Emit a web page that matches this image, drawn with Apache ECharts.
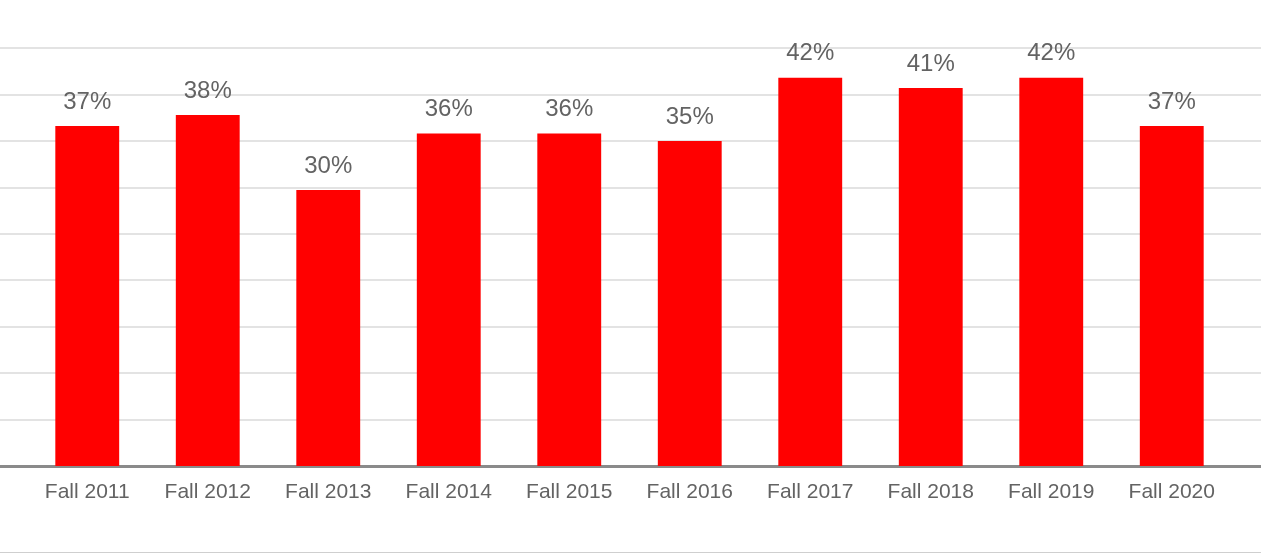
<!DOCTYPE html>
<html>
<head>
<meta charset="utf-8">
<script src="https://cdn.jsdelivr.net/npm/echarts@6/dist/echarts.min.js"></script>
<style>
  html, body { margin: 0; padding: 0; background: #fff; }
  #chart { width: 1261px; height: 552px; border-bottom: 1px solid #cfcfcf; }
</style>
</head>
<body>
<div id="chart"></div>
<script>
const categories = ['Fall 2011','Fall 2012','Fall 2013','Fall 2014','Fall 2015','Fall 2016','Fall 2017','Fall 2018','Fall 2019','Fall 2020'];
const values = [36.6, 37.8, 29.7, 35.8, 35.8, 35.0, 41.8, 40.7, 41.8, 36.6];
const yMin = 0, yMax = 45, yStep = 5;

const font = 'Liberation Sans, Arial, sans-serif';
const chart = echarts.init(document.getElementById('chart'), null, { renderer: 'canvas' });
chart.setOption({
  animation: false,
  backgroundColor: '#fff',
  grid: [
    { left: 27, right: 29, top: 48, bottom: 86 },
    { left: 0, right: 0, top: 48, bottom: 86 }
  ],
  xAxis: [
    {
      type: 'category', gridIndex: 0, data: categories,
      axisLine: { show: false }, axisTick: { show: false },
      axisLabel: { color: '#636363', fontSize: 21, fontFamily: font, margin: 16, interval: 0 }
    },
    {
      type: 'category', gridIndex: 1, data: [''],
      axisLine: { show: true, lineStyle: { color: '#8a8a8a', width: 3 } },
      axisTick: { show: false }, axisLabel: { show: false }
    }
  ],
  yAxis: [
    {
      type: 'value', gridIndex: 0, min: yMin, max: yMax, interval: yStep,
      axisLine: { show: false }, axisTick: { show: false }, axisLabel: { show: false },
      splitLine: { show: false }
    },
    {
      type: 'value', gridIndex: 1, min: yMin, max: yMax, interval: yStep,
      axisLine: { show: false }, axisTick: { show: false }, axisLabel: { show: false },
      splitLine: { show: true, lineStyle: { color: '#e3e3e3', width: 2 } }
    }
  ],
  series: [
    {
      type: 'bar', xAxisIndex: 0, yAxisIndex: 0, data: values, barWidth: '53%',
      itemStyle: { color: '#ff0000' },
      z: 3,
      label: {
        show: true, position: 'top', distance: 12,
        color: '#636363', fontSize: 24, fontFamily: font,
        formatter: p => Math.round(p.value) + '%'
      }
    }
  ]
});
</script>
</body>
</html>
